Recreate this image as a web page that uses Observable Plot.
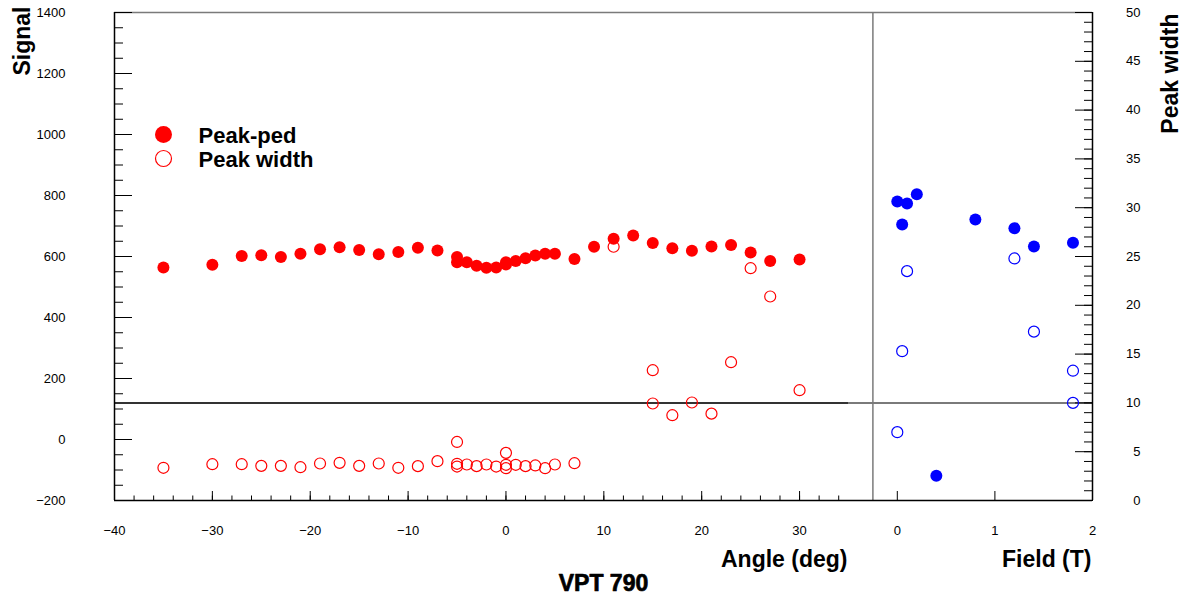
<!DOCTYPE html>
<html><head><meta charset="utf-8">
<script src="https://cdn.jsdelivr.net/npm/d3@7"></script>
<script src="https://cdn.jsdelivr.net/npm/@observablehq/plot@0.6"></script>
<style>
html,body{margin:0;padding:0;background:#fff;}
#chart{display:flex;width:1187px;height:598px;}
#chart svg{display:block;flex:none;}
</style></head><body><div id="chart"></div>
<script>
// ---- Left panel: angle scan ----
const angleFilled = [-35,-30,-27,-25,-23,-21,-19,-17,-15,-13,-11,-9,-7,-5,-5,-4,-3,-2,-1,0,0,1,2,3,4,5,7,9,11,13,15,17,19,21,23,25,27,30];
const signalFilled = [564,573,602,604,598,609,624,630,621,607,615,629,620,598,581,581,570,563,564,581,574,585,594,603,609,609,592,632,658,669,644,627,619,633,638,613,585,590];
const angleOpen = [-35,-30,-27,-25,-23,-21,-19,-17,-15,-13,-11,-9,-7,-5,-5,-5,-4,-3,-2,-1,0,0,0,1,2,3,4,5,7,11,15,15,17,19,21,23,25,27,30];
const widthOpen = [3.35,3.72,3.72,3.55,3.55,3.41,3.79,3.86,3.55,3.79,3.35,3.52,4.03,6.0,3.76,3.48,3.69,3.52,3.69,3.48,4.88,3.66,3.31,3.66,3.52,3.59,3.31,3.69,3.82,26.0,13.35,9.94,8.74,10.04,8.9,14.17,23.8,20.9,11.3];
// ---- Right panel: field scan ----
const fieldFilled = [0,0.05,0.1,0.2,0.4,0.8,1.2,1.4,1.8];
const signalField = [780,705,774,804,-119,721,693,633,645];
const fieldOpen = [0,0.05,0.1,1.2,1.4,1.8,1.8];
const widthField = [7.0,15.3,23.5,24.8,17.3,13.3,10.0];
// ---- Axes / ticks / labels ----
const signalDomain = [-200, 1400];
const widthDomain = [0, 50];
const angleDomain = [-40, 35];
const fieldDomain = [-0.5, 2];
const signalTicks = [-200,0,200,400,600,800,1000,1200,1400];
const widthTicks = [0,5,10,15,20,25,30,35,40,45,50];
const angleTicks = [-40,-30,-20,-10,0,10,20,30];
const fieldTicks = [0,1,2];
const refWidth = [10];
const fieldDivider = [-0.25];
const legendLabels = ["Peak-ped", "Peak width"];
const titles = {signal: "Signal", width: "Peak width", angle: "Angle (deg)", field: "Field (T)", main: "VPT 790"};

const toSignal = w => signalDomain[0] + (w - widthDomain[0]) * (signalDomain[1] - signalDomain[0]) / (widthDomain[1] - widthDomain[0]);
const toWidth = s => widthDomain[0] + (s - signalDomain[0]) * (widthDomain[1] - widthDomain[0]) / (signalDomain[1] - signalDomain[0]);
const fmt = d => d < 0 ? "\u2212" + Math.abs(d) : String(d);

const redFilled = angleFilled.map((a, i) => ({x: a, s: signalFilled[i]}));
const redOpen = angleOpen.map((a, i) => ({x: a, w: widthOpen[i]}));
const blueFilled = fieldFilled.map((f, i) => ({x: f, s: signalField[i]}));
const blueOpen = fieldOpen.map((f, i) => ({x: f, w: widthField[i]}));

const FONT = "Liberation Sans, Arial, Helvetica, sans-serif";
const common = {
  height: 598, marginTop: 12, marginBottom: 98,
  y: {domain: signalDomain, axis: null},
  style: {fontFamily: FONT, fontSize: "13px", background: "white", overflow: "visible", color: "black"}
};
const titleFont = {fontSize: 23, fontWeight: "bold", fontFamily: FONT, fill: "black"};

const left = Plot.plot({
  ...common,
  width: 848, marginLeft: 114, marginRight: 0,
  x: {domain: angleDomain, axis: null},
  marks: [
    Plot.ruleY([signalDomain[1]], {stroke: "#7a7a7a", strokeWidth: 1.5}),
    Plot.ruleY(refWidth.map(toSignal), {stroke: "#333", strokeWidth: 2}),
    Plot.axisY(d3.range(signalDomain[0], signalDomain[1] + 1, 50), {anchor: "left", tickSize: -9, fill: "none", stroke: "black", label: null}),
    Plot.axisY(signalTicks, {anchor: "left", tickSize: -18, tickPadding: 67, tickFormat: fmt, stroke: "black", fill: "black", label: null}),
    Plot.axisX(d3.range(angleDomain[0], angleDomain[1], 2), {anchor: "bottom", tickSize: -4.5, fill: "none", stroke: "black", label: null}),
    Plot.axisX(angleTicks, {anchor: "bottom", tickSize: -9, tickPadding: 34, tickFormat: fmt, stroke: "black", fill: "black", label: null}),
    Plot.ruleX([angleDomain[0]], {stroke: "black", strokeWidth: 1.5}),
    Plot.ruleY([signalDomain[0]], {stroke: "black", strokeWidth: 1.5}),
    Plot.dot(redFilled, {x: "x", y: "s", r: 6, fill: "#ff0000"}),
    Plot.dot(redOpen, {x: "x", y: d => toSignal(d.w), r: 5.5, stroke: "#ff0000", strokeWidth: 1.2, fill: "none"}),
    // legend
    Plot.dot([legendLabels[0]], {frameAnchor: "top-left", dx: 49, dy: 122, r: 8.5, fill: "#ff0000"}),
    Plot.dot([legendLabels[1]], {frameAnchor: "top-left", dx: 49, dy: 146, r: 8, stroke: "#ff0000", strokeWidth: 1.2, fill: "none"}),
    Plot.text([legendLabels[0]], {frameAnchor: "top-left", dx: 84, dy: 123, text: d => d, textAnchor: "start", lineAnchor: "middle", ...titleFont, fontSize: 22}),
    Plot.text([legendLabels[1]], {frameAnchor: "top-left", dx: 84, dy: 147, text: d => d, textAnchor: "start", lineAnchor: "middle", ...titleFont, fontSize: 22}),
    // titles
    Plot.text([titles.signal], {frameAnchor: "top-left", dx: -92, dy: -6, rotate: -90, text: d => d, textAnchor: "end", lineAnchor: "middle", ...titleFont}),
    Plot.text([titles.angle], {frameAnchor: "bottom-right", dx: -1, dy: 59, text: d => d, textAnchor: "end", lineAnchor: "middle", ...titleFont}),
    Plot.text([titles.main], {frameAnchor: "bottom", dx: 122, dy: 83, text: d => d, textAnchor: "middle", lineAnchor: "middle", ...titleFont, stroke: "black", strokeWidth: 0.7})
  ]
});

const right = Plot.plot({
  ...common,
  width: 339, marginLeft: 0, marginRight: 95,
  x: {domain: fieldDomain, axis: null},
  marks: [
    Plot.ruleY([signalDomain[1]], {stroke: "#7a7a7a", strokeWidth: 1.5}),
    Plot.ruleY(refWidth.map(toSignal), {stroke: "#7a7a7a", strokeWidth: 2}),
    Plot.ruleX(fieldDivider, {stroke: "#7a7a7a", strokeWidth: 1.5}),
    Plot.axisY(d3.range(widthDomain[0], widthDomain[1] + 1, 1).map(toSignal), {anchor: "right", tickSize: -9, fill: "none", stroke: "black", label: null}),
    Plot.axisY(widthTicks.map(toSignal), {anchor: "right", tickSize: -18, tickPadding: 66, textAnchor: "end", tickFormat: d => fmt(Math.round(toWidth(d))), stroke: "black", fill: "black", label: null}),
    Plot.axisX(fieldTicks, {anchor: "bottom", tickSize: -9, tickPadding: 34, tickFormat: fmt, stroke: "black", fill: "black", label: null}),
    Plot.ruleX([fieldDomain[1]], {stroke: "black", strokeWidth: 1.5}),
    Plot.ruleY([signalDomain[0]], {stroke: "black", strokeWidth: 1.5}),
    Plot.dot(blueFilled, {x: "x", y: "s", r: 6, fill: "#0000ff"}),
    Plot.dot(blueOpen, {x: "x", y: d => toSignal(d.w), r: 5.5, stroke: "#0000ff", strokeWidth: 1.2, fill: "none"}),
    Plot.text([titles.width], {frameAnchor: "top-right", dx: 78, dy: 1, rotate: -90, text: d => d, textAnchor: "end", lineAnchor: "middle", ...titleFont}),
    Plot.text([titles.field], {frameAnchor: "bottom-right", dx: -1, dy: 59, text: d => d, textAnchor: "end", lineAnchor: "middle", ...titleFont})
  ]
});

document.getElementById("chart").append(left, right);
</script></body></html>
